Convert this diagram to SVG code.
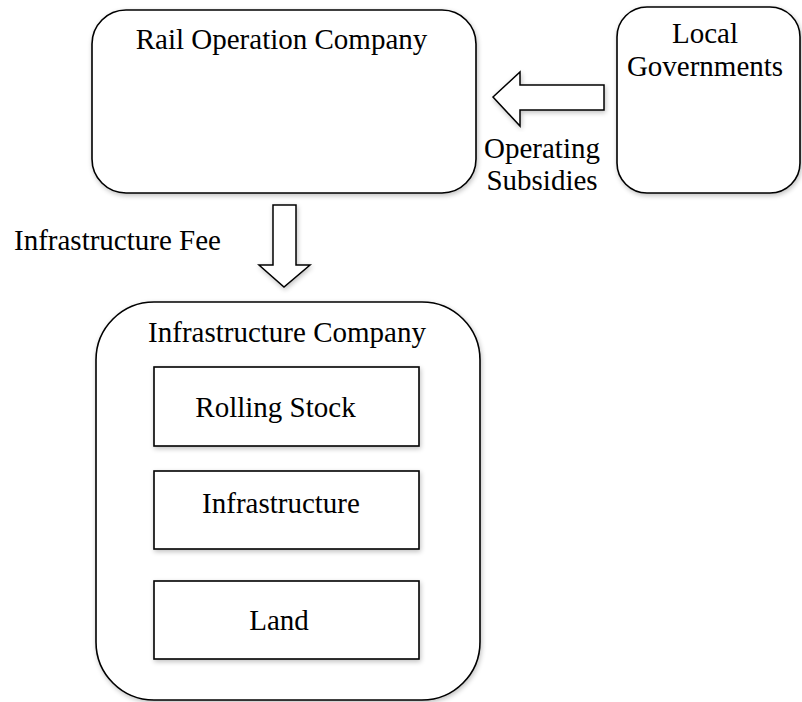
<svg xmlns="http://www.w3.org/2000/svg" width="802" height="702" viewBox="0 0 802 702">
<defs>
<filter id="sh" x="-10%" y="-10%" width="120%" height="120%">
<feGaussianBlur in="SourceAlpha" stdDeviation="2.5"/>
<feOffset dx="1" dy="2" result="b"/>
<feComponentTransfer><feFuncA type="linear" slope="0.25"/></feComponentTransfer>
<feMerge><feMergeNode/><feMergeNode in="SourceGraphic"/></feMerge>
</filter>
</defs>
<style>
.box{fill:#fff;stroke:#000;stroke-width:1.6;filter:url(#sh)}
.arr{fill:#fff;stroke:#000;stroke-width:1.5;stroke-linejoin:miter;filter:url(#sh)}
.t{font-family:'Liberation Serif','Times New Roman',Times,serif;font-size:29px;fill:#000}
.c{text-anchor:middle}
</style>
<rect width="802" height="702" fill="#fff"/>
<g id="rail-operation-company">
<rect class="box" x="92" y="10" width="384" height="183" rx="34" ry="34"/>
<text class="t c" x="281.5" y="49">Rail Operation Company</text>
</g>
<g id="local-governments">
<rect class="box" x="617" y="7" width="183" height="186" rx="30" ry="30"/>
<text class="t c" x="705" y="43">Local</text>
<text class="t c" x="705" y="76">Governments</text>
</g>
<g id="infrastructure-company">
<rect class="box" x="96" y="302" width="384" height="398" rx="58" ry="58"/>
<text class="t c" x="287" y="342">Infrastructure Company</text>
</g>
<g id="rolling-stock">
<rect class="box" x="154" y="367" width="265" height="79"/>
<text class="t c" x="275.5" y="417">Rolling Stock</text>
</g>
<g id="infrastructure">
<rect class="box" x="154" y="471" width="265" height="78"/>
<text class="t c" x="281" y="513">Infrastructure</text>
</g>
<g id="land">
<rect class="box" x="154" y="581" width="265" height="78"/>
<text class="t c" x="279" y="630">Land</text>
</g>
<g id="connectors">
<polygon class="arr" points="604,85 520,85 520,72 493,97 520,126 520,110 604,110"/>
<text class="t c" x="542" y="158">Operating</text>
<text class="t c" x="542" y="190">Subsidies</text>
<polygon class="arr" points="273,205 296,205 296,265 310,265 284,287 259,265 273,265"/>
<text class="t" x="14" y="250">Infrastructure Fee</text>
</g>
</svg>
